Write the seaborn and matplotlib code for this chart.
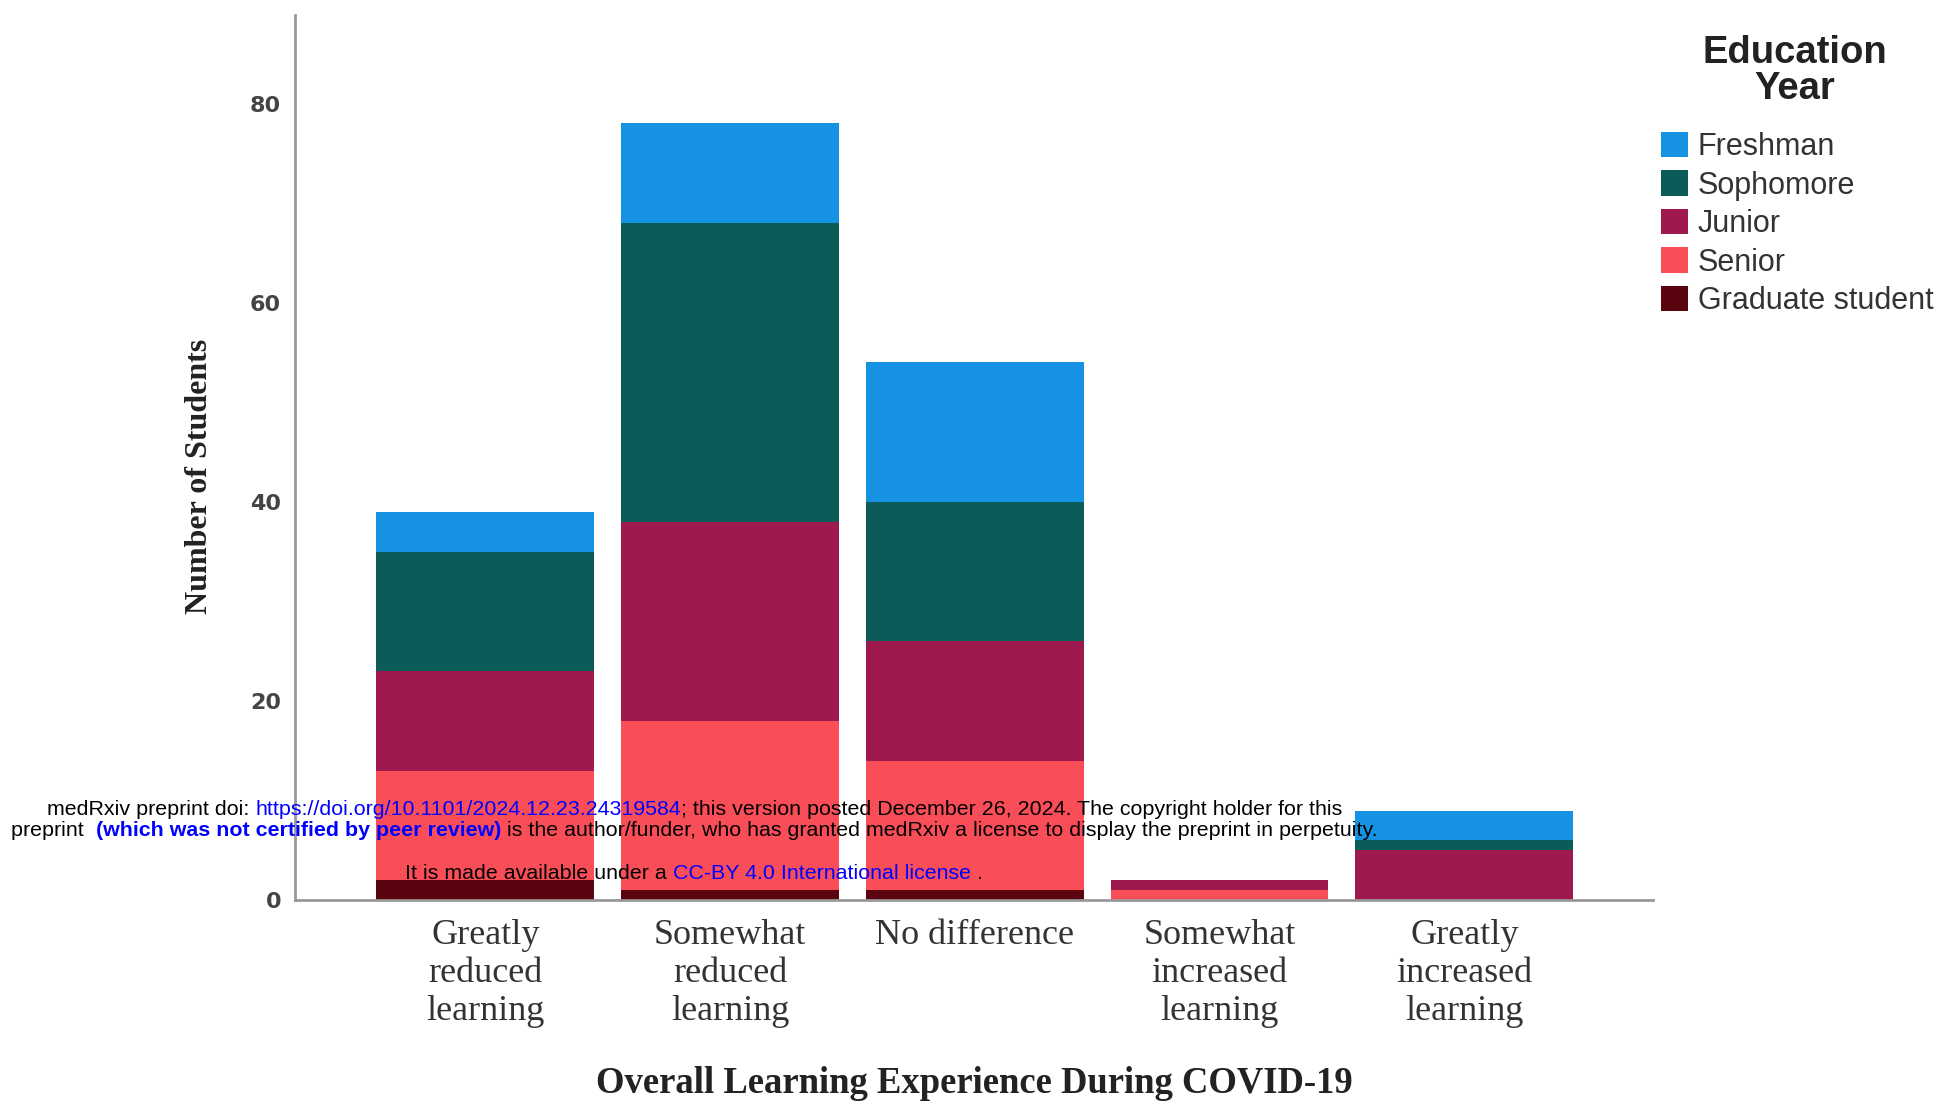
import matplotlib
matplotlib.use("Agg")
import matplotlib.pyplot as plt
from matplotlib.patches import Patch
import matplotlib.text as mtext
import seaborn as sns
import pandas as pd
import numpy as np

categories = ["Greatly\nreduced\nlearning", "Somewhat\nreduced\nlearning", "No difference",
              "Somewhat\nincreased\nlearning", "Greatly\nincreased\nlearning"]
years = ["Freshman", "Sophomore", "Junior", "Senior", "Graduate student"]
freshman = [4, 10, 14, 0, 3]
sophomore = [12, 30, 14, 0, 1]
junior = [10, 20, 12, 1, 5]
senior = [11, 17, 13, 1, 0]
graduate = [2, 1, 1, 0, 0]
colors = ["#1592E2", "#0B5B58", "#9E1A4E", "#F94E58", "#5A0410"]
yticks = [0, 20, 40, 60, 80]

sns.set_style("white")

df = pd.DataFrame({"cat": categories, "Freshman": freshman, "Sophomore": sophomore,
                   "Junior": junior, "Senior": senior, "Graduate student": graduate})

fig = plt.figure(figsize=(19.49, 11.10), dpi=100)
ax = fig.add_axes([0.1514, 0.189, 0.6966, 0.7976])

# stacked bars: draw cumulative heights from the top level down
cum = np.zeros(len(categories))
cums = {}
for y in years[::-1]:
    cum = cum + df[y].values
    cums[y] = cum.copy()
for y, c in zip(years, colors):
    sns.barplot(x=categories, y=cums[y], order=categories, color=c, width=0.89,
                saturation=1, linewidth=0, ax=ax, errorbar=None)

ax.set_xlim(-0.777, 4.77)
ax.set_ylim(0, 88.9)
ax.set_yticks(yticks)
ax.set_yticklabels([str(t) for t in yticks], fontsize=16, color="#444444",
                   fontfamily="DejaVu Sans", fontweight="bold")
ax.set_xticks(range(len(categories)))
ax.set_xticklabels(categories, fontsize=26, color="#333333", fontfamily="Liberation Serif",
                   linespacing=1.2)
ax.tick_params(axis="both", length=0, pad=10)
ax.tick_params(axis="x", pad=13.5)
for s in ["top", "right"]:
    ax.spines[s].set_visible(False)
for s in ["left", "bottom"]:
    ax.spines[s].set_color("#999999")
    ax.spines[s].set_linewidth(2)
ax.grid(False)

ax.set_ylabel("Number of Students", fontsize=23, fontweight="bold",
              fontfamily="Liberation Serif", color="#222222")
ax.yaxis.label.set_va("center")
ax.yaxis.set_label_coords(-0.0704, 0.479)
ax.set_xlabel("Overall Learning Experience During COVID-19", fontsize=26.4, fontweight="bold",
              fontfamily="Liberation Serif", color="#222222")
ax.xaxis.label.set_va("center")
ax.xaxis.set_label_coords(0.5005, -0.2065)

# legend title as separate text, legend entries below
fig.text(1795 / 1949, 1 - 35 / 1110, "Education\nYear", ha="center", va="top",
         family="Liberation Sans", fontsize=27.5, fontweight="bold", color="#222222",
         linespacing=1.0)
handles = [Patch(facecolor=c, edgecolor="none", label=y) for y, c in zip(years, colors)]
leg = fig.legend(handles=handles, loc="upper left",
                 bbox_to_anchor=(1661 / 1949, 1 - 132 / 1110), frameon=False,
                 prop={"family": "Liberation Sans", "size": 22},
                 handlelength=0.9, handleheight=0.9, handletextpad=0.3, labelspacing=0.27,
                 borderpad=0, borderaxespad=0)
for t in leg.get_texts():
    t.set_color("#333333")

# medRxiv watermark overlay
wm_font = ["Liberation Sans Narrow", "Liberation Sans"]
lines = [
    (47, 815, [("medRxiv preprint doi: ", "black", "normal"),
               ("https://doi.org/10.1101/2024.12.23.24319584", "#0000FF", "normal"),
               ("; this version posted December 26, 2024. The copyright holder for this", "black", "normal")]),
    (11, 836, [("preprint  ", "black", "normal"),
               ("(which was not certified by peer review)", "#0000FF", "bold"),
               (" is the author/funder, who has granted medRxiv a license to display the preprint in perpetuity.", "black", "normal")]),
    (405, 879, [("It is made available under a ", "black", "normal"),
                ("CC-BY 4.0 International license", "#0000FF", "normal"),
                (" .", "black", "normal")]),
]
for x0, y0, parts in lines:
    prev = None
    for txt, col, wt in parts:
        if prev is None:
            prev = fig.text(x0 / 1949, 1 - y0 / 1110, txt, color=col, fontweight=wt,
                            family=wm_font, fontsize=15.4, va="baseline", ha="left")
        else:
            prev = fig.add_artist(mtext.Annotation(
                txt, xy=(1, 0), xycoords=prev, color=col, fontweight=wt,
                family=wm_font, fontsize=15.4, va="bottom", ha="left"))

fig.savefig("out.png", dpi=100)
